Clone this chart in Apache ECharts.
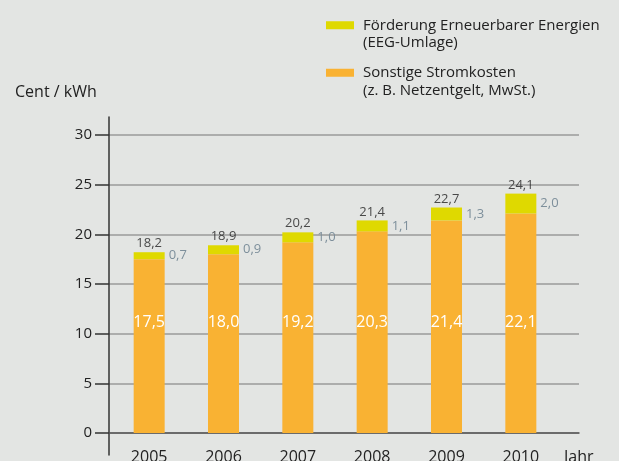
<!DOCTYPE html>
<html>
<head>
<meta charset="utf-8">
<script src="https://cdn.jsdelivr.net/npm/echarts@6/dist/echarts.min.js"></script>
<style>
html,body{margin:0;padding:0;background:#e3e5e3;}
#c{width:619px;height:461px;}
</style>
</head>
<body>
<div id="c"></div>
<script>
const years = ['2005', '2006', '2007', '2008', '2009', '2010'];
const sonstige = [17.5, 18.0, 19.2, 20.3, 21.4, 22.1];
const eeg = [0.7, 0.9, 1.0, 1.1, 1.3, 2.0];
const totals = [18.2, 18.9, 20.2, 21.4, 22.7, 24.1];
const yMin = 0, yMax = 30, yInterval = 5;
const eegName = ['Förderung Erneuerbarer Energien', '(EEG-Umlage)'];
const sonName = ['Sonstige Stromkosten', '(z. B. Netzentgelt, MwSt.)'];
const yAxisName = 'Cent / kWh';
const xAxisName = 'Jahr';

const fmt = v => (typeof v === 'number' ? v : Number(v)).toFixed(1).replace('.', ',');
const FONT = 'Open Sans';
const eegKey = eegName.join(' ');
const sonKey = sonName.join(' ');
const legendLines = {};
legendLines[eegKey] = eegName;
legendLines[sonKey] = sonName;

const chart = echarts.init(document.getElementById('c'), null, {renderer: 'canvas'});
const legendText = {fontFamily: FONT, fontSize: 15, color: '#222', lineHeight: 17.5, padding: [0, 0, 0, 4]};
const legendFmt = name => '\u00a0\n' + legendLines[name][0] + '\n' + legendLines[name][1];
chart.setOption({
  backgroundColor: '#e3e5e3',
  animation: false,
  textStyle: {fontFamily: FONT},
  title: [
    {text: yAxisName, left: 15, top: 84, textStyle: {fontFamily: FONT, fontSize: 16, fontWeight: 'normal', color: '#222'}, padding: 0},
    {text: xAxisName, left: 564, top: 449, textStyle: {fontFamily: FONT, fontSize: 16, fontWeight: 'normal', color: '#222'}, padding: 0}
  ],
  legend: [
    {data: [eegKey], formatter: legendFmt, left: 326, top: -1, orient: 'vertical', icon: 'rect', itemWidth: 28, itemHeight: 8, itemGap: 9, padding: 0, selectedMode: false, textStyle: legendText},
    {data: [sonKey], formatter: legendFmt, left: 326, top: 46.5, orient: 'vertical', icon: 'rect', itemWidth: 28, itemHeight: 8, itemGap: 9, padding: 0, selectedMode: false, textStyle: legendText}
  ],
  grid: [
    {left: 109, right: 40, top: 135, bottom: 28, outerBoundsMode: 'none', containLabel: false},
    {left: 112, width: 446, top: 135, bottom: 28, outerBoundsMode: 'none', containLabel: false},
    {left: 109, width: 10, top: 117, bottom: 6, outerBoundsMode: 'none', containLabel: false}
  ],
  xAxis: [
    {gridIndex: 0, type: 'category', data: years, axisLine: {show: true, lineStyle: {color: '#555', width: 1.5}}, axisTick: {show: false}, axisLabel: {show: false}, splitLine: {show: false}},
    {gridIndex: 1, type: 'category', data: years, axisLine: {show: false}, axisTick: {show: false}, axisLabel: {fontFamily: FONT, fontSize: 16, color: '#222', margin: 16}},
    {gridIndex: 2, type: 'value', min: 0, max: 1, show: false}
  ],
  yAxis: [
    {gridIndex: 0, type: 'value', min: yMin, max: yMax, interval: yInterval,
     axisLine: {show: false},
     axisTick: {show: true, length: 14, lineStyle: {color: '#333', width: 1.5}},
     axisLabel: {fontFamily: FONT, fontSize: 15, color: '#222', margin: 17},
     splitLine: {show: true, lineStyle: {color: '#9a9a9a', width: 1.5}}},
    {gridIndex: 1, type: 'value', min: yMin, max: yMax, show: false},
    {gridIndex: 2, type: 'value', min: 0, max: 1, axisLine: {show: true, lineStyle: {color: '#333', width: 1.5}}, axisTick: {show: false}, axisLabel: {show: false}, splitLine: {show: false}}
  ],
  series: [
    {name: sonKey, type: 'bar', stack: 'a', xAxisIndex: 1, yAxisIndex: 1, barWidth: 31, data: sonstige,
     itemStyle: {color: '#f9b233'},
     label: {show: true, position: 'insideBottom', distance: 103, color: '#fff', fontFamily: FONT, fontSize: 16, formatter: p => fmt(p.value)},
     emphasis: {disabled: true}},
    {name: eegKey, type: 'bar', stack: 'a', xAxisIndex: 1, yAxisIndex: 1, barWidth: 31, data: eeg,
     itemStyle: {color: '#dfd900'},
     label: {show: true, position: 'right', distance: 4, color: '#7d8f9b', fontFamily: FONT, fontSize: 13, formatter: p => fmt(p.value)},
     emphasis: {disabled: true}},
    {name: 'Gesamt', type: 'scatter', xAxisIndex: 1, yAxisIndex: 1, data: totals, symbolSize: 0.1,
     itemStyle: {color: 'transparent'},
     label: {show: true, position: 'top', distance: 2, color: '#222', fontFamily: FONT, fontSize: 13, formatter: p => fmt(p.value)},
     emphasis: {disabled: true}, silent: true}
  ]
});
</script>
</body>
</html>
